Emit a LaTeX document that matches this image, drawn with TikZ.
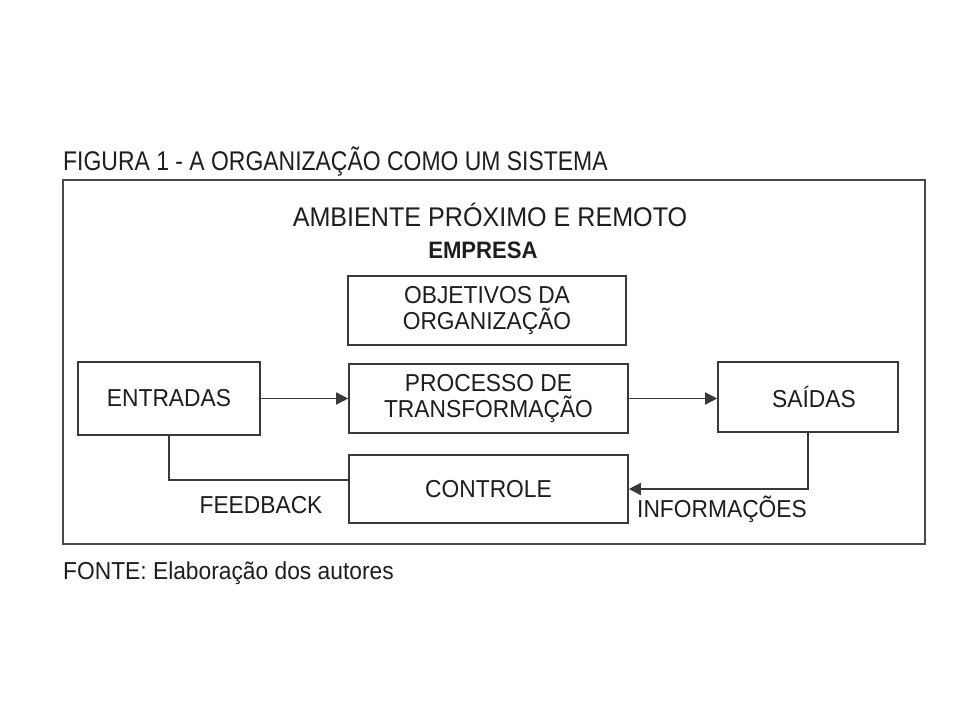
\documentclass[tikz,border=0pt]{standalone}
\usepackage{fontspec}
\setmainfont{Liberation Sans}
\newfontfamily\narrowfont[FakeStretch=0.85]{Liberation Sans}
\newfontfamily\boxfont[FakeStretch=0.93]{Liberation Sans}
\usetikzlibrary{arrows.meta}
\definecolor{linecol}{HTML}{3A3A3A}
\definecolor{framecol}{HTML}{4A4A4A}
\definecolor{txtcol}{HTML}{1E1E1E}
\begin{document}
\begin{tikzpicture}[x=1pt,y=-1pt,
  box/.style={draw=linecol, line width=1.6pt, align=center, text=txtcol,
    inner sep=0pt, font=\boxfont\fontsize{24.5}{25.5}\selectfont},
  conn/.style={draw=linecol, line width=1.5pt},
  tip/.style={-{Triangle[length=12pt,width=12pt]}},
  lbl/.style={text=txtcol, inner sep=0pt, font=\boxfont\fontsize{24.5}{25.5}\selectfont}]
\useasboundingbox[fill=white] (0,0) rectangle (960,720);
\node[text=txtcol, inner sep=0pt, anchor=west, font=\narrowfont\fontsize{27}{28}\selectfont] (title) at (63,162) {FIGURA 1 - A ORGANIZAÇÃO COMO UM SISTEMA};
\node[draw=framecol, line width=2pt, minimum width=862pt, minimum height=364pt, inner sep=0pt] (frame) at (494,362) {};
\node[text=txtcol, inner sep=0pt, font=\boxfont\fontsize{27}{28}\selectfont] (amb) at (490,215) {AMBIENTE PRÓXIMO E REMOTO};
\node[text=txtcol, inner sep=0pt, font=\boxfont\bfseries\fontsize{23.8}{25}\selectfont] (emp) at (483,250) {EMPRESA};
\node[box, minimum width=278pt, minimum height=69pt] (obj) at (487,310.5) {OBJETIVOS DA\\ORGANIZAÇÃO};
\node[box, minimum width=182pt, minimum height=73pt] (ent) at (169,398.5) {ENTRADAS};
\node[box, minimum width=279pt, minimum height=69pt] (proc) at (488.5,398.5) {PROCESSO DE\\TRANSFORMAÇÃO};
\node[box, minimum width=180pt, minimum height=70pt] (sai) at (808,397) {\hspace*{12pt}SAÍDAS};
\node[box, minimum width=279pt, minimum height=68pt] (ctrl) at (488.5,489) {CONTROLE};
\draw[conn,tip] (ent.east) -- (proc.west);
\draw[conn,tip] (proc.east) -- (proc.east -| sai.west);
\draw[conn] (ent.south) |- ([yshift=9pt]ctrl.west);
\draw[conn,tip] (sai.south) |- (ctrl.east);
\node[lbl] (fb) at (261,505) {FEEDBACK};
\node[lbl] (inf) at (722,509) {INFORMAÇÕES};
\node[text=txtcol, inner sep=0pt, anchor=west, font=\boxfont\fontsize{24.5}{25.5}\selectfont] (fonte) at (63,573) {FONTE: Elaboração dos autores};
\end{tikzpicture}
\end{document}
